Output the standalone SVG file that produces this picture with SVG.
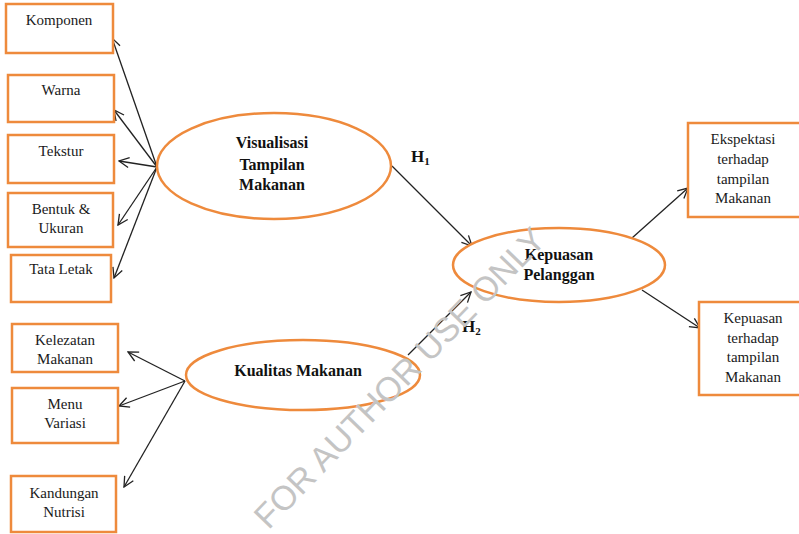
<svg xmlns="http://www.w3.org/2000/svg" width="799" height="534" viewBox="0 0 799 534">
<style>
.box{fill:#fff;stroke:#EE8A3C;stroke-width:2.5}
.ell{fill:#fff;stroke:#EE8A3C;stroke-width:2.5}
.t{font-family:"Liberation Serif",serif;font-size:15px;fill:#1a1a1a;text-anchor:middle}
.b{font-family:"Liberation Serif",serif;font-size:16px;font-weight:bold;fill:#111;text-anchor:middle}
.h{font-family:"Liberation Serif",serif;font-size:17px;font-weight:bold;fill:#111}
.c{stroke:#222;stroke-width:1.3;fill:none;marker-end:url(#ah)}
.wm{font-family:"Liberation Sans",sans-serif;font-size:34px;fill:#c4c4c4;text-anchor:middle}
</style>
<defs>
<marker id="ah" viewBox="0 0 12 12" refX="11" refY="6" markerWidth="12" markerHeight="12" markerUnits="userSpaceOnUse" orient="auto">
<path d="M1,1 L11,6 L1,11" fill="none" stroke="#222" stroke-width="1.3"/>
</marker>
</defs>
<rect width="799" height="534" fill="#fff"/>
<g id="connectors">
<line class="c" x1="157" y1="167" x2="112" y2="38"/>
<line class="c" x1="157" y1="167" x2="114" y2="110"/>
<line class="c" x1="157" y1="167" x2="119" y2="161"/>
<line class="c" x1="157" y1="167" x2="118" y2="225"/>
<line class="c" x1="157" y1="167" x2="114" y2="278"/>
<line class="c" x1="185" y1="381" x2="128" y2="352"/>
<line class="c" x1="185" y1="381" x2="119" y2="406"/>
<line class="c" x1="185" y1="381" x2="124" y2="487"/>
<line class="c" x1="392" y1="166" x2="472" y2="246"/>
<line class="c" x1="408" y1="355" x2="471" y2="292"/>
<line class="c" x1="632" y1="238" x2="688" y2="188"/>
<line class="c" x1="642" y1="290" x2="700" y2="328"/>
</g>
<g id="komponen"><rect class="box" x="6" y="4" width="107" height="49"/><text class="t" x="59" y="25">Komponen</text></g>
<g id="warna"><rect class="box" x="8" y="75" width="106" height="47"/><text class="t" x="61" y="95">Warna</text></g>
<g id="tekstur"><rect class="box" x="8" y="135" width="106" height="48"/><text class="t" x="61" y="156">Tekstur</text></g>
<g id="bentuk"><rect class="box" x="8" y="193" width="105" height="54"/><text class="t" x="61" y="214">Bentuk &amp;</text><text class="t" x="61" y="233">Ukuran</text></g>
<g id="tataletak"><rect class="box" x="11" y="255" width="100" height="47"/><text class="t" x="61" y="274">Tata Letak</text></g>
<g id="kelezatan"><rect class="box" x="12" y="324" width="106" height="48"/><text class="t" x="65" y="345">Kelezatan</text><text class="t" x="65" y="364">Makanan</text></g>
<g id="menu"><rect class="box" x="12" y="388" width="106" height="55"/><text class="t" x="65" y="409">Menu</text><text class="t" x="65" y="428">Variasi</text></g>
<g id="kandungan"><rect class="box" x="11" y="476" width="105" height="56"/><text class="t" x="64" y="498">Kandungan</text><text class="t" x="64" y="517">Nutrisi</text></g>
<g id="ekspektasi"><rect class="box" x="688" y="123" width="115" height="94"/><text class="t" x="743" y="144">Ekspektasi</text><text class="t" x="743" y="164">terhadap</text><text class="t" x="743" y="184">tampilan</text><text class="t" x="743" y="203">Makanan</text></g>
<g id="kepuasan-terhadap"><rect class="box" x="699" y="302" width="104" height="93"/><text class="t" x="753" y="323">Kepuasan</text><text class="t" x="753" y="343">terhadap</text><text class="t" x="753" y="362">tampilan</text><text class="t" x="753" y="382">Makanan</text></g>
<g id="visualisasi"><ellipse class="ell" cx="274" cy="166" rx="117" ry="53"/><text class="b" x="272" y="148">Visualisasi</text><text class="b" x="272" y="170">Tampilan</text><text class="b" x="272" y="190">Makanan</text></g>
<g id="kualitas"><ellipse class="ell" cx="303" cy="375" rx="117" ry="35"/><text class="b" x="298" y="376">Kualitas Makanan</text></g>
<g id="kepuasan-pelanggan"><ellipse class="ell" cx="559" cy="265" rx="106" ry="37"/><text class="b" x="559" y="260">Kepuasan</text><text class="b" x="559" y="280">Pelanggan</text></g>
<g id="labels">
<text class="h" x="411" y="162">H<tspan font-size="11" dy="3">1</tspan></text>
<text class="h" x="462" y="332">H<tspan font-size="11" dy="3">2</tspan></text>
</g>
<text class="wm" x="408" y="386" transform="rotate(-46 408 386)">FOR AUTHOR USE ONLY</text>
</svg>
